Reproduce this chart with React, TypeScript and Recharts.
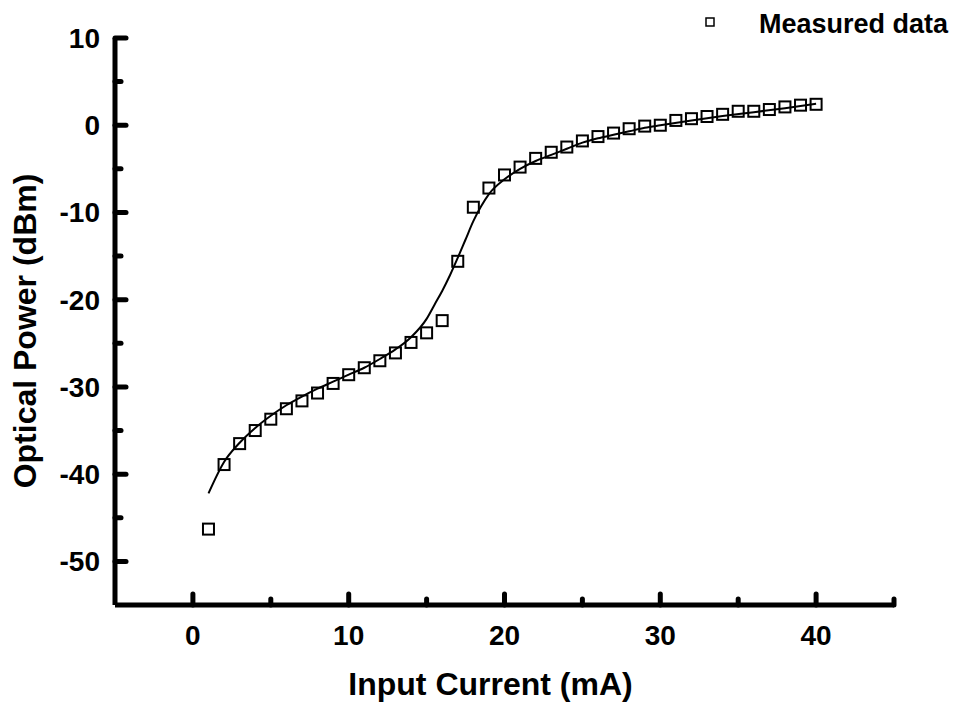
import React from 'react';
import { ComposedChart, Line, Scatter, XAxis, YAxis, Legend } from 'recharts';

// measured points
const measuredCurrent = [
  1, 2, 3, 4, 5, 6, 7, 8, 9, 10, 11, 12, 13, 14, 15, 16, 17, 18, 19, 20,
  21, 22, 23, 24, 25, 26, 27, 28, 29, 30, 31, 32, 33, 34, 35, 36, 37, 38, 39, 40,
];
const measuredPower = [
  -46.3, -38.9, -36.5, -35.0, -33.7, -32.5, -31.6, -30.7, -29.6, -28.6,
  -27.8, -27.0, -26.1, -24.9, -23.8, -22.4, -15.6, -9.4, -7.2, -5.7,
  -4.8, -3.8, -3.1, -2.5, -1.8, -1.3, -0.9, -0.4, -0.1, 0.0,
  0.55, 0.75, 1.0, 1.25, 1.6, 1.6, 1.8, 2.1, 2.3, 2.4,
];

// fitted curve
const fitCurrent = [
  1, 2, 3, 4, 5, 6, 7, 8, 9, 10, 11, 12, 13, 14, 15, 15.5, 16, 16.5, 17, 17.5,
  18, 18.5, 19, 20, 21, 22, 23, 24, 25, 26, 27, 28, 29, 30, 32, 34, 36, 38, 40,
];
const fitPower = [
  -42.2, -38.6, -36.4, -34.7, -33.3, -32.1, -31.1, -30.2, -29.4, -28.6,
  -27.8, -26.8, -25.7, -24.3, -22.2, -20.6, -19.0, -17.2, -15.2, -13.1,
  -11.0, -9.3, -7.9, -6.2, -5.0, -4.1, -3.4, -2.7, -2.0, -1.5,
  -1.1, -0.7, -0.3, 0.0, 0.55, 1.05, 1.5, 1.95, 2.45,
];

const xTicks = [0, 5, 10, 15, 20, 25, 30, 35, 40, 45];
const yTicks = [10, 5, 0, -5, -10, -15, -20, -25, -30, -35, -40, -45, -50];

const measuredData = measuredCurrent.map((x, i) => ({ x, y: measuredPower[i] }));
const fitData = fitCurrent.map((x, i) => ({ x, y: fitPower[i] }));

const FONT = '"Liberation Sans", Arial, Helvetica, sans-serif';

const XTick = (props: any) => {
  const { x, y, payload } = props;
  const major = payload.value % 10 === 0;
  return (
    <g>
      <line x1={x} y1={y} x2={x} y2={y - (major ? 11 : 6)} stroke="#000" strokeWidth={5} strokeLinecap="round" />
      {major && (
        <text x={x} y={y + 40} textAnchor="middle" fontFamily={FONT} fontWeight="bold" fontSize={28} fill="#000">
          {payload.value}
        </text>
      )}
    </g>
  );
};

const YTick = (props: any) => {
  const { x, y, payload } = props;
  const major = payload.value % 10 === 0;
  return (
    <g>
      <line x1={x} y1={y} x2={x + (major ? 11 : 6)} y2={y} stroke="#000" strokeWidth={5} strokeLinecap="round" />
      {major && (
        <text x={x - 15} y={y + 10} textAnchor="end" fontFamily={FONT} fontWeight="bold" fontSize={28} fill="#000">
          {payload.value}
        </text>
      )}
    </g>
  );
};

const XTitle = (props: any) => {
  const vb = props.viewBox ?? { x: 115, y: 605, width: 779, height: 60 };
  return (
    <text x={vb.x + vb.width / 2 - 14} y={vb.y + 90} textAnchor="middle" fontFamily={FONT} fontWeight="bold" fontSize={32} fill="#000">
      Input Current (mA)
    </text>
  );
};

const YTitle = (props: any) => {
  const vb = props.viewBox ?? { x: 55, y: 38, width: 60, height: 567 };
  const cx = 36;
  const cy = vb.y + vb.height / 2 + 9.5;
  return (
    <text x={cx} y={cy} transform={`rotate(-90, ${cx}, ${cy})`} textAnchor="middle" fontFamily={FONT} fontWeight="bold" fontSize={32} fill="#000">
      Optical Power (dBm)
    </text>
  );
};

const Square = (props: any) => {
  const { cx, cy } = props;
  return <rect x={cx - 5.5} y={cy - 5.5} width={11} height={11} fill="none" stroke="#000" strokeWidth={2} />;
};

const LegendBox = () => (
  <svg width={269} height={44}>
    <rect x={6} y={18} width={8} height={8} fill="none" stroke="#000" strokeWidth={1.5} />
    <text x={59} y={33} fontFamily={FONT} fontWeight="bold" fontSize={27} fill="#000">
      Measured data
    </text>
  </svg>
);

export default function App() {
  return (
    <div style={{ position: 'absolute', left: 0, top: 0, width: 969, height: 706, background: '#fff' }}>
      <ComposedChart width={969} height={706} margin={{ top: 38, right: 75, bottom: 41, left: 55 }}>
        <XAxis
          type="number"
          dataKey="x"
          domain={[-5, 45]}
          ticks={xTicks}
          interval={0}
          height={60}
          tickSize={0}
          tickMargin={0}
          tickLine={false}
          tick={<XTick />}
          axisLine={{ stroke: '#000', strokeWidth: 5 }}
          allowDataOverflow
          label={<XTitle />}
        />
        <YAxis
          type="number"
          dataKey="y"
          domain={[-55, 10]}
          ticks={yTicks}
          interval={0}
          width={60}
          tickSize={0}
          tickMargin={0}
          tickLine={false}
          tick={<YTick />}
          axisLine={{ stroke: '#000', strokeWidth: 5 }}
          allowDataOverflow
          label={<YTitle />}
        />
        <Legend
          layout="horizontal"
          verticalAlign="middle"
          align="center"
          wrapperStyle={{ left: 700, top: 0, width: 269, height: 44 }}
          content={<LegendBox />}
        />
        <Line
          data={fitData}
          dataKey="y"
          type="monotone"
          stroke="#000"
          strokeWidth={2}
          dot={false}
          activeDot={false}
          legendType="none"
          isAnimationActive={false}
        />
        <Scatter
          data={measuredData}
          dataKey="y"
          name="Measured data"
          shape={<Square />}
          isAnimationActive={false}
        />
      </ComposedChart>
    </div>
  );
}
